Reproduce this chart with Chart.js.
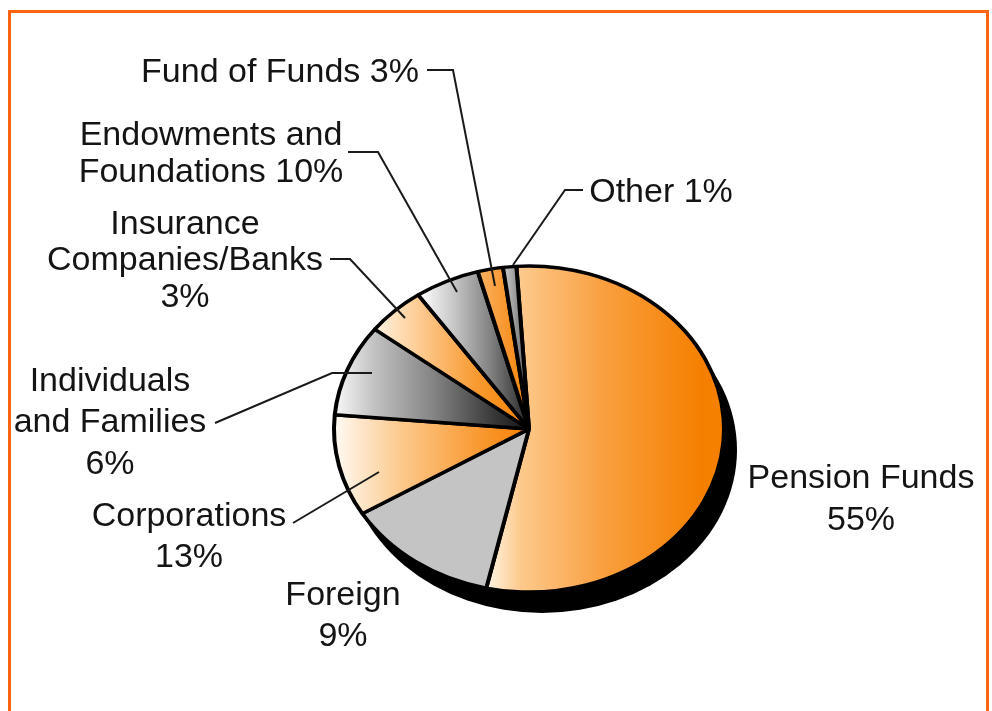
<!DOCTYPE html>
<html lang="en">

<head>
    <meta charset="UTF-8">
    <title>Investor types</title>
    <script src="https://cdn.jsdelivr.net/npm/chart.js"></script>
    <style>
        html, body {
            margin: 0;
            background-color: #ffffff;
            overflow: hidden;
        }

        #frame {
            position: absolute;
            left: 8px;
            top: 10px;
            width: 975px;
            height: 701px;
            border: 3px solid #ff6510;
            border-bottom: none;
        }

        #pie {
            position: absolute;
            left: 0;
            top: 0;
        }
    </style>
</head>

<body>
    <div id="frame"></div>
    <canvas id="pie" width="992" height="711"></canvas>

    <script>
        // clockwise from the top of the pie
        const categories = ["Pension Funds", "Foreign", "Corporations", "Individuals and Families",
            "Insurance Companies/Banks", "Endowments and Foundations", "Fund of Funds", "Other"];
        // slice sizes as drawn (they do not follow the printed percentages)
        const sliceValues = [54.6, 12.8, 10.1, 9.1, 4.9, 5.4, 2.1, 1.1];

        const labelLines = [
            { lines: ["Pension Funds", "55%"], x: 861, y: [488, 530] },
            { lines: ["Foreign", "9%"], x: 343, y: [605, 646] },
            { lines: ["Corporations", "13%"], x: 189, y: [526, 567] },
            { lines: ["Individuals", "and Families", "6%"], x: 110, y: [391, 432, 474] },
            { lines: ["Insurance", "Companies/Banks", "3%"], x: 185, y: [234, 270, 307] },
            { lines: ["Endowments and", "Foundations 10%"], x: 211, y: [145, 182] },
            { lines: ["Fund of Funds 3%"], x: 280, y: [82] },
            { lines: ["Other 1%"], x: 661, y: [202] }
        ];

        const leaders = [
            [[293, 523], [379, 472]],
            [[215, 423], [332, 373], [372, 373]],
            [[330, 259], [350, 259], [405, 318]],
            [[348, 152], [378, 152], [457, 292]],
            [[427, 70], [453, 70], [495, 286]],
            [[583, 190], [565, 190], [513, 265]]
        ];

        const pieSquash = 163 / 195;
        const shadowOffset = { x: 13, y: 21 };

        const canvas = document.getElementById("pie");
        const ctx = canvas.getContext("2d");

        function sweep(x0, x1, stops) {
            const g = ctx.createLinearGradient(x0, 0, x1, 0);
            stops.forEach(s => g.addColorStop(s[0], s[1]));
            return g;
        }

        const sliceFills = [
            sweep(485, 724, [[0, "#fff6ea"], [0.15, "#fdc98b"], [0.5, "#f99f3e"], [0.9, "#f58000"], [1, "#f58000"]]),
            "#c4c4c4",
            sweep(334, 530, [[0, "#fffaf4"], [0.35, "#fcc88a"], [0.75, "#f9982f"], [1, "#f58000"]]),
            sweep(335, 530, [[0, "#f8f8f8"], [0.2, "#c2c2c2"], [0.5, "#858585"], [0.85, "#303030"], [1, "#111111"]]),
            sweep(378, 530, [[0, "#fff0dc"], [0.3, "#fdc78a"], [0.65, "#f89a30"], [1, "#f58000"]]),
            sweep(420, 530, [[0, "#ffffff"], [0.3, "#c8c8c8"], [0.65, "#808080"], [1, "#222222"]]),
            sweep(480, 530, [[0, "#fbb060"], [1, "#f58000"]]),
            sweep(505, 530, [[0, "#c8c8c8"], [1, "#555555"]])
        ];

        // squash the round pie into the tilted ellipse and put the black rim under it
        const tiltPlugin = {
            id: "tilt",
            beforeDatasetsDraw(chart) {
                const c = chart.ctx;
                const arc = chart.getDatasetMeta(0).data[0];
                c.save();
                c.translate(arc.x, arc.y);
                c.scale(1, pieSquash);
                c.translate(-arc.x, -arc.y);
                c.beginPath();
                c.arc(arc.x + shadowOffset.x, arc.y + shadowOffset.y / pieSquash, arc.outerRadius, 0, Math.PI * 2);
                c.fillStyle = "#000000";
                c.fill();
            },
            afterDatasetsDraw(chart) {
                chart.ctx.restore();
            }
        };

        const calloutPlugin = {
            id: "callouts",
            afterDraw(chart) {
                const c = chart.ctx;
                c.save();
                c.strokeStyle = "#1a1a1a";
                c.lineWidth = 2;
                leaders.forEach(points => {
                    c.beginPath();
                    points.forEach((p, i) => i ? c.lineTo(p[0], p[1]) : c.moveTo(p[0], p[1]));
                    c.stroke();
                });
                c.fillStyle = "#141414";
                c.font = "34px 'Liberation Sans'";
                c.textAlign = "center";
                c.textBaseline = "alphabetic";
                labelLines.forEach(l => {
                    l.lines.forEach((text, i) => c.fillText(text, l.x, l.y[i]));
                });
                c.restore();
            }
        };

        new Chart(canvas, {
            type: "pie",
            data: {
                labels: categories,
                datasets: [{
                    data: sliceValues,
                    backgroundColor: sliceFills,
                    borderColor: "#000000",
                    borderWidth: 4
                }]
            },
            options: {
                responsive: false,
                animation: false,
                rotation: -3.7,
                radius: 195,
                layout: { padding: { left: 66, top: 147 } },
                plugins: {
                    legend: { display: false },
                    tooltip: { enabled: false }
                }
            },
            plugins: [tiltPlugin, calloutPlugin]
        });
    </script>
</body>

</html>
